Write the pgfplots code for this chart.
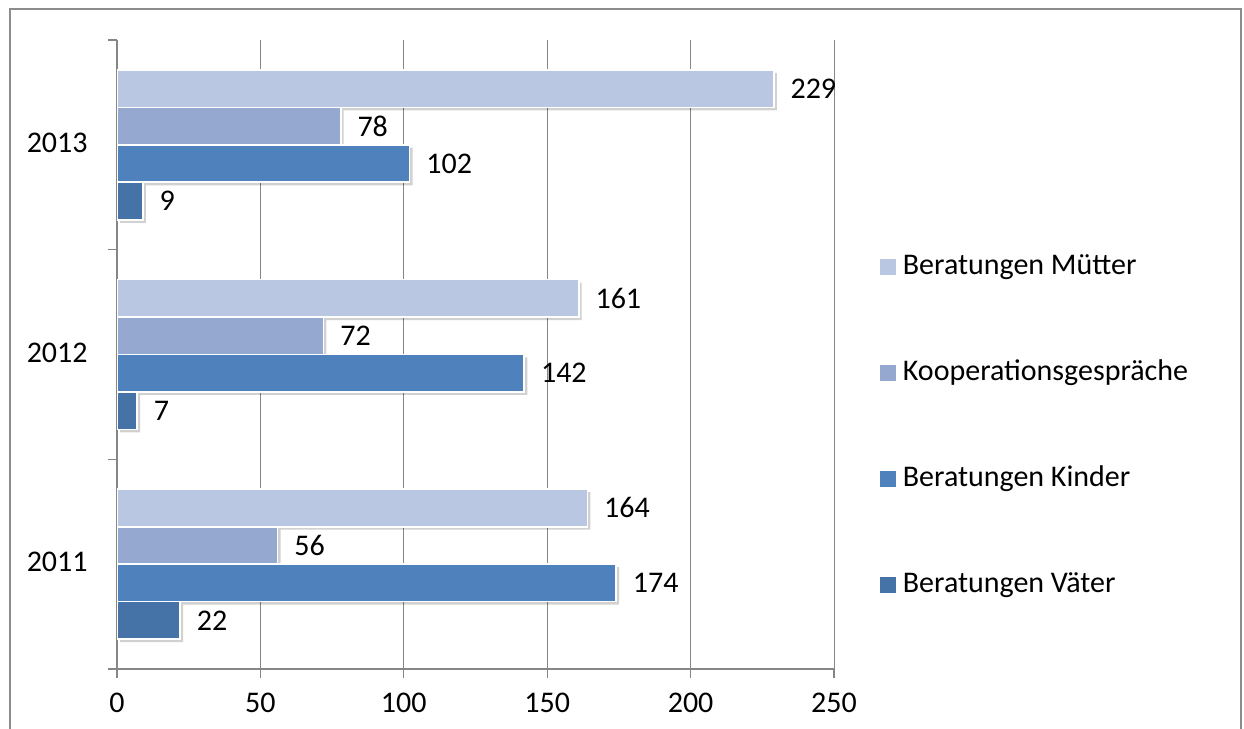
\documentclass[border=0pt]{standalone}
\usepackage{fontspec}
\setmainfont{Carlito}
\usepackage{pgfplots}
\pgfplotsset{compat=1.18}
\definecolor{cM}{HTML}{B9C7E2}
\definecolor{cK}{HTML}{95A8D0}
\definecolor{cKi}{HTML}{4F81BD}
\definecolor{cV}{HTML}{4572A7}
\definecolor{axgray}{HTML}{868686}
\definecolor{frame}{HTML}{8C8C8C}
\newcommand{\f}{\fontsize{15}{17.5}\selectfont}
\pgfplotstableread{
y M K Ki V
0 164 56 174 22
1 161 72 142 7
2 229 78 102 9
}\data
\begin{document}
\f
\begin{tikzpicture}
\path[use as bounding box] (0,0) rectangle (622pt,364.5pt);
\draw[draw=frame, line width=1pt] (5pt,-5pt) rectangle (620.5pt,360pt);
\begin{axis}[
  at={(58.5pt,30pt)}, anchor=south west, scale only axis,
  width=358.5pt, height=314.5pt,
  xbar, bar width=0.179,
  xmin=0, xmax=250, ymin=-0.5, ymax=2.5,
  xtick={0,50,...,250},
  ytick={0,1,2}, yticklabels={2011,2012,2013},
  axis x line*=bottom, axis y line*=left,
  axis line style={axgray, line width=0.7pt},
  tick align=outside, major tick length=4.5pt,
  xtick style={axgray, line width=0.6pt},
  ytick style={draw=none},
  extra y ticks={-0.5,0.5,1.5,2.5}, extra y tick labels={},
  extra y tick style={ytick style={draw=axgray, line width=0.6pt}},
  xmajorgrids, grid style={axgray, line width=0.5pt},
  /pgf/number format/assume math mode=true,
  ticklabel style={font=\f, text=black},
  yticklabel style={xshift=-5pt, yshift=1pt},
  xticklabel style={yshift=-2.5pt},
  legend cell align=left,
  legend style={at={(1.064,0.386)}, anchor=west, draw=none, fill=none,
    inner sep=0pt, row sep=36pt, font=\f,
    nodes={inner ysep=2pt, inner xsep=3.5pt, text height=10pt, text depth=3pt}},
  legend image code/.code={\fill[#1,draw=none] (0pt,-3.9pt) rectangle (7.8pt,3.9pt);},
  every node near coord/.append style={font=\f, text=black, anchor=west, xshift=3pt},
]
% shadows
\addplot[xbar, fill=black, opacity=0.18, draw=none, bar shift=0.268, forget plot, xshift=1.5pt, yshift=-1.5pt] table[x=M,y=y]{\data};
\addplot[xbar, fill=black, opacity=0.18, draw=none, bar shift=0.089, forget plot, xshift=1.5pt, yshift=-1.5pt] table[x=K,y=y]{\data};
\addplot[xbar, fill=black, opacity=0.18, draw=none, bar shift=-0.089, forget plot, xshift=1.5pt, yshift=-1.5pt] table[x=Ki,y=y]{\data};
\addplot[xbar, fill=black, opacity=0.18, draw=none, bar shift=-0.268, forget plot, xshift=1.5pt, yshift=-1.5pt] table[x=V,y=y]{\data};
% bars
\addplot[xbar, fill=cM, draw=white, line width=0.8pt, bar shift=0.268, nodes near coords] table[x=M,y=y]{\data};
\addplot[xbar, fill=cK, draw=white, line width=0.8pt, bar shift=0.089, nodes near coords] table[x=K,y=y]{\data};
\addplot[xbar, fill=cKi, draw=white, line width=0.8pt, bar shift=-0.089, nodes near coords] table[x=Ki,y=y]{\data};
\addplot[xbar, fill=cV, draw=white, line width=0.8pt, bar shift=-0.268, nodes near coords] table[x=V,y=y]{\data};
\legend{Beratungen Mütter, Kooperationsgespräche, Beratungen Kinder, Beratungen Väter}
\end{axis}
\end{tikzpicture}
\end{document}
